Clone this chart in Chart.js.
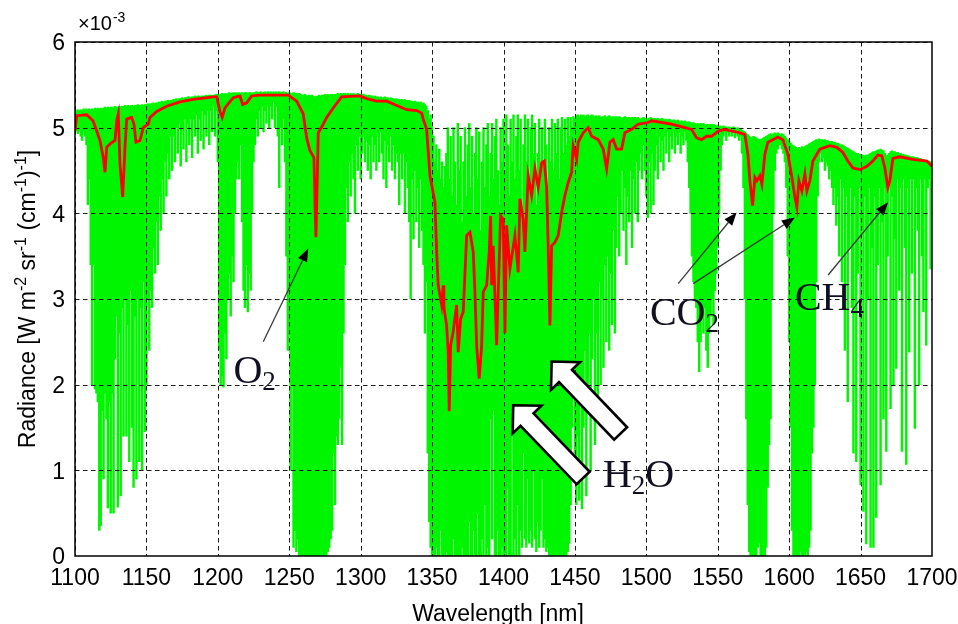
<!DOCTYPE html>
<html>
<head>
<meta charset="utf-8">
<script src="https://cdn.jsdelivr.net/npm/chart.js@4.4.1/dist/chart.umd.min.js"></script>
<style>
  html, body { margin: 0; padding: 0; background: #fff; }
  canvas { display: block; }
</style>
</head>
<body>
<canvas id="c" width="958" height="624"></canvas>
<script>
// High-resolution spectrum: one bin per nm from 1100 to 1700 nm.
// Each bin spans the min..max radiance (x1e-3) reached inside it.
const binStartNm = 1100;
const greenLow = [
  5.0, 4.97, 4.93, 4.96, 4.9, 4.85, 4.95, 4.9, 4.8, 4.1,
  4.4, 3.4, 2.0, 3.4, 1.95, 1.9, 1.8, 0.3, 0.35, 1.7,
  0.9, 1.9, 1.6, 0.56, 1.8, 0.5, 1.9, 0.5, 2.3, 2.8,
  0.57, 2.6, 0.7, 2.9, 1.4, 3.0, 1.4, 2.7, 1.1, 3.1,
  1.5, 0.8, 2.8, 0.9, 3.0, 1.1, 2.9, 1.0, 3.2, 1.45,
  2.0, 3.0, 2.4, 3.1, 2.9, 3.6, 3.3, 3.9, 3.4, 4.2,
  3.8, 4.4, 4.0, 4.6, 4.2, 4.7, 4.4, 4.9, 4.5, 4.9,
  4.6, 5.0, 4.7, 5.05, 4.55, 5.0, 4.75, 5.1, 4.6, 5.05,
  4.8, 5.1, 4.65, 5.1, 4.9, 5.15, 4.7, 5.1, 4.85, 5.2,
  4.75, 5.15, 4.9, 5.2, 4.8, 5.2, 4.95, 5.25, 4.9, 5.2,
  4.6, 2.4, 2.0, 2.1, 1.97, 2.6, 2.3, 3.0, 3.3, 2.8,
  3.5, 3.2, 4.0, 4.4, 4.6, 4.4, 4.8, 3.9, 3.1, 2.9,
  3.4, 2.85, 3.3, 3.1, 4.0, 4.6, 4.8, 5.1, 4.9, 5.2,
  5.0, 5.25, 4.95, 5.2, 5.05, 5.25, 5.0, 5.25, 5.1, 5.3,
  5.0, 5.25, 4.9, 4.3, 5.0, 4.8, 5.1, 4.6, 3.5, 2.4,
  2.6, 1.0, 2.0, 0.1, 0.3, 0.05, 0.2, 0, 0, 0,
  0, 0, 0, 0, 0, 0, 0, 0, 0, 0,
  0, 0, 0, 0, 0, 0, 0, 0.05, 0.1, 0.2,
  0.3, 1.2, 0.6, 1.4, 1.3, 1.6, 2.2, 1.3, 2.6, 3.4,
  4.3, 3.9, 4.6, 4.2, 4.7, 4.4, 4.0, 4.8, 4.5, 4.9,
  4.4, 4.7, 4.9, 4.6, 4.85, 4.5, 4.8, 4.4, 4.9, 4.6,
  4.8, 4.5, 4.9, 4.6, 4.95, 4.7, 4.4, 4.85, 4.3, 4.8,
  4.6, 4.9, 4.5, 4.8, 4.4, 4.7, 4.6, 4.1, 4.7, 4.4,
  4.7, 4.0, 4.6, 4.3, 3.9, 3.0, 4.4, 3.7, 4.5, 3.9,
  4.3, 3.6, 4.4, 3.8, 3.4, 2.6, 3.2, 1.2, 0.4, 0.1,
  0, 0, 0, 0.1, 0, 0, 0.3, 0, 0, 0,
  0.05, 0, 0, 0, 0, 0.2, 0, 0, 0, 0,
  0, 0.1, 0, 0, 0, 0, 0.4, 0, 0, 0.3,
  0, 0, 0.5, 0, 0, 0.2, 0, 0.6, 0, 0.1,
  0, 1.6, 0.2, 1.7, 0, 0, 0.3, 0, 0, 0.1,
  0, 0, 0, 0.8, 0, 0, 1.5, 0, 0.2, 0,
  0.6, 0, 0.3, 0.1, 1.2, 0.2, 0.1, 0.9, 0.15, 0.3,
  0.1, 1.0, 0.2, 0.05, 0.4, 0.1, 0.3, 0.9, 0.1, 0.2,
  0.05, 0.1, 0, 0, 0, 0, 0, 0, 0, 0,
  0, 0, 0, 0, 0, 0.05, 0.15, 0.6, 1.5, 2.0,
  1.2, 0.6, 1.4, 0.65, 2.0, 0.55, 1.5, 2.4, 0.7, 1.8,
  2.6, 1.0, 2.3, 3.0, 1.3, 2.6, 1.6, 3.2, 2.0, 3.0,
  2.2, 3.4, 2.5, 3.5, 2.4, 3.3, 2.7, 3.8, 2.6, 3.6,
  4.2, 3.5, 4.0, 4.5, 3.8, 4.3, 3.4, 4.2, 3.9, 4.5,
  3.6, 4.4, 4.0, 4.6, 3.9, 4.5, 4.7, 4.4, 4.8, 4.5,
  4.2, 3.95, 4.6, 4.0, 4.7, 4.1, 4.5, 4.8, 4.4, 4.9,
  4.6, 4.85, 4.5, 4.9, 4.7, 4.95, 4.6, 4.9, 4.75, 4.95,
  4.7, 4.9, 4.8, 4.95, 4.7, 4.9, 4.8, 4.95, 4.85, 4.6,
  4.3, 4.0, 3.5, 3.2, 3.0, 2.9, 2.5, 2.15, 2.5, 2.8,
  2.6, 2.9, 2.4, 2.2, 2.6, 2.8, 3.0, 2.7, 3.1, 3.3,
  3.6, 4.0, 4.5, 4.8, 4.9, 4.95, 4.85, 4.95, 4.9, 4.97,
  4.9, 4.95, 4.88, 4.95, 4.9, 4.85, 4.9, 4.7, 4.3, 3.0,
  1.6, 0.6, 0.05, 0, 0, 0, 0, 0, 0.1, 0.15,
  0, 0, 0, 0, 0.1, 0.8, 1.3, 1.6, 3.0, 4.0,
  4.5, 4.7, 4.75, 4.8, 4.8, 4.75, 4.7, 4.6, 4.3, 3.5,
  2.5, 1.5, 0.3, 0, 0, 0, 0, 0, 0.05, 0,
  0, 0, 0.05, 0, 0.1, 0.3, 1.2, 1.5, 2.0, 3.2,
  4.2, 4.6, 4.7, 4.6, 4.65, 4.5, 4.6, 4.55, 4.4, 4.5,
  4.3, 4.1, 4.3, 3.86, 4.2, 3.5, 4.4, 3.2, 4.3, 2.4,
  4.2, 1.8, 3.6, 4.3, 2.9, 1.2, 4.2, 1.1, 3.3, 4.3,
  0.83, 3.8, 0.52, 4.2, 0.14, 3.0, 4.3, 0.1, 3.6, 0.1,
  4.2, 0.45, 3.4, 4.3, 0.83, 3.9, 1.6, 4.3, 1.22, 3.5,
  4.4, 1.72, 4.2, 2.0, 3.7, 2.19, 4.4, 3.1, 4.3, 1.22,
  4.4, 3.6, 1.07, 4.3, 2.38, 4.4, 3.3, 4.4, 1.49, 4.3,
  3.8, 2.0, 4.4, 3.5, 2.85, 4.4, 2.46, 4.3, 4.4, 3.35,
  4.5
];
const greenHigh = [
  5.19, 5.2, 5.21, 5.2, 5.21, 5.2, 5.22, 5.21, 5.22, 5.21,
  5.22, 5.21, 5.22, 5.21, 5.23, 5.22, 5.23, 5.22, 5.23, 5.22,
  5.23, 5.24, 5.23, 5.24, 5.23, 5.24, 5.24, 5.23, 5.25, 5.24,
  5.24, 5.25, 5.24, 5.25, 5.25, 5.26, 5.25, 5.26, 5.25, 5.26,
  5.26, 5.25, 5.26, 5.26, 5.27, 5.26, 5.26, 5.27, 5.26, 5.27,
  5.27, 5.28, 5.27, 5.28, 5.28, 5.29, 5.28, 5.29, 5.29, 5.3,
  5.3, 5.31, 5.3, 5.31, 5.31, 5.32, 5.31, 5.32, 5.32, 5.33,
  5.33, 5.34, 5.33, 5.34, 5.34, 5.35, 5.34, 5.35, 5.35, 5.36,
  5.36, 5.35, 5.36, 5.36, 5.37, 5.36, 5.37, 5.37, 5.36, 5.37,
  5.37, 5.37, 5.38, 5.37, 5.38, 5.38, 5.37, 5.38, 5.38, 5.39,
  5.39, 5.38, 5.39, 5.4, 5.39, 5.4, 5.39, 5.4, 5.41, 5.4,
  5.4, 5.41, 5.4, 5.41, 5.4, 5.41, 5.4, 5.41, 5.4, 5.41,
  5.41, 5.4, 5.41, 5.41, 5.4, 5.41, 5.41, 5.42, 5.41, 5.41,
  5.42, 5.41, 5.41, 5.42, 5.41, 5.42, 5.41, 5.42, 5.41, 5.42,
  5.41, 5.42, 5.41, 5.42, 5.41, 5.41, 5.42, 5.41, 5.41, 5.4,
  5.41, 5.4, 5.4, 5.41, 5.4, 5.4, 5.39, 5.4, 5.39, 5.38,
  5.38, 5.39, 5.38, 5.37, 5.38, 5.37, 5.38, 5.37, 5.36, 5.37,
  5.37, 5.38, 5.37, 5.38, 5.38, 5.39, 5.38, 5.39, 5.38, 5.39,
  5.39, 5.38, 5.39, 5.39, 5.4, 5.39, 5.4, 5.39, 5.4, 5.4,
  5.39, 5.4, 5.39, 5.4, 5.39, 5.4, 5.39, 5.39, 5.4, 5.39,
  5.39, 5.38, 5.39, 5.38, 5.38, 5.37, 5.38, 5.37, 5.37, 5.36,
  5.37, 5.36, 5.36, 5.35, 5.36, 5.35, 5.35, 5.36, 5.35, 5.35,
  5.34, 5.35, 5.34, 5.34, 5.33, 5.34, 5.33, 5.33, 5.32, 5.33,
  5.32, 5.33, 5.32, 5.31, 5.32, 5.31, 5.31, 5.3, 5.31, 5.3,
  5.3, 5.29, 5.3, 5.28, 5.29, 5.27, 5.25, 5.2, 5.1, 5.15,
  5.0, 4.9, 4.6, 4.8, 4.5, 4.75, 4.4, 4.6, 4.3, 4.55,
  4.7, 5.0, 4.4, 4.9, 4.2, 5.0, 4.6, 4.1, 5.05, 4.5,
  4.9, 3.9, 4.6, 5.0, 4.2, 4.8, 5.05, 4.3, 4.9, 4.0,
  4.7, 5.0, 4.4, 4.95, 3.8, 4.6, 5.0, 4.3, 4.8, 5.05,
  4.2, 4.7, 5.05, 4.4, 4.9, 5.1, 4.5, 4.1, 5.0, 4.6,
  5.1, 4.5, 5.15, 4.8, 4.2, 5.1, 4.6, 5.15, 4.4, 4.9,
  5.15, 4.5, 5.1, 4.0, 4.8, 5.15, 4.6, 5.1, 4.3, 5.0,
  5.15, 4.7, 5.05, 4.1, 4.7, 5.1, 4.4, 5.0, 4.6, 5.1,
  4.8, 4.3, 5.0, 4.6, 5.1, 4.5, 5.05, 4.7, 5.1, 4.4,
  5.0, 5.12, 4.7, 5.1, 4.8, 5.12, 4.9, 5.12, 5.0, 5.13,
  5.1, 5.14, 5.15, 5.13, 5.15, 5.14, 5.15, 5.13, 5.14, 5.15,
  5.13, 5.14, 5.15, 5.14, 5.13, 5.14, 5.13, 5.14, 5.13, 5.12,
  5.13, 5.14, 5.12, 5.13, 5.14, 5.13, 5.12, 5.13, 5.12, 5.13,
  5.12, 5.13, 5.12, 5.11, 5.12, 5.13, 5.12, 5.11, 5.12, 5.11,
  5.12, 5.11, 5.12, 5.11, 5.12, 5.11, 5.1, 5.11, 5.12, 5.11,
  5.11, 5.1, 5.11, 5.12, 5.11, 5.1, 5.11, 5.1, 5.11, 5.1,
  5.1, 5.11, 5.1, 5.09, 5.1, 5.09, 5.1, 5.09, 5.08, 5.09,
  5.09, 5.08, 5.09, 5.08, 5.07, 5.08, 5.07, 5.08, 5.07, 5.06,
  5.07, 5.06, 5.05, 5.06, 5.05, 5.04, 5.05, 5.04, 5.05, 5.04,
  5.05, 5.04, 5.03, 5.04, 5.03, 5.04, 5.03, 5.04, 5.03, 5.02,
  5.03, 5.02, 5.02, 5.01, 5.02, 5.01, 5.01, 5.0, 5.01, 5.0,
  5.0, 5.01, 5.0, 4.99, 5.0, 4.99, 4.98, 4.97, 4.96, 4.95,
  4.93, 4.92, 4.9, 4.89, 4.88, 4.9, 4.89, 4.88, 4.87, 4.86,
  4.86, 4.87, 4.88, 4.89, 4.9, 4.91, 4.92, 4.93, 4.92, 4.93,
  4.94, 4.93, 4.94, 4.93, 4.92, 4.93, 4.92, 4.9, 4.88, 4.86,
  4.84, 4.82, 4.8, 4.79, 4.78, 4.77, 4.76, 4.77, 4.76, 4.78,
  4.77, 4.78, 4.79, 4.8, 4.81, 4.82, 4.83, 4.84, 4.85, 4.86,
  4.86, 4.87, 4.86, 4.86, 4.85, 4.86, 4.85, 4.85, 4.84, 4.84,
  4.84, 4.83, 4.83, 4.82, 4.82, 4.81, 4.8, 4.8, 4.79, 4.78,
  4.77, 4.76, 4.75, 4.74, 4.73, 4.72, 4.71, 4.7, 4.7, 4.69,
  4.69, 4.68, 4.68, 4.67, 4.68, 4.68, 4.69, 4.7, 4.71, 4.72,
  4.72, 4.73, 4.74, 4.74, 4.75, 4.74, 4.73, 4.7, 4.67, 4.68,
  4.7, 4.72, 4.73, 4.72, 4.72, 4.71, 4.71, 4.7, 4.7, 4.69,
  4.69, 4.68, 4.68, 4.67, 4.67, 4.66, 4.66, 4.66, 4.65, 4.65,
  4.65, 4.64, 4.64, 4.63, 4.63, 4.62, 4.62, 4.61, 4.61, 4.6,
  4.6
];

// Instrument-resolution spectrum (red curve): wavelength [nm] and radiance (x1e-3).
const redNm = [
  1100.0, 1101.2, 1108.2, 1112.6, 1115.2, 1117.5, 1119.8, 1121.0, 1122.2, 1124.5,
  1128.0, 1129.2, 1130.3, 1131.5, 1133.4, 1135.0, 1136.2, 1139.7, 1141.3, 1142.7,
  1145.5, 1147.8, 1151.3, 1152.5, 1157.2, 1164.2, 1173.5, 1182.8, 1196.8, 1199.2,
  1201.5, 1203.1, 1205.0, 1210.8, 1215.5, 1217.4, 1220.2, 1223.7, 1229.5, 1249.3,
  1255.2, 1259.8, 1262.2, 1264.5, 1267.3, 1268.2, 1268.7, 1269.6, 1270.3, 1273.8,
  1276.2, 1280.8, 1286.7, 1299.5, 1304.2, 1311.2, 1318.2, 1332.2, 1339.2, 1342.7,
  1343.8, 1346.2, 1348.5, 1352.0, 1353.2, 1354.3, 1356.7, 1357.8, 1358.3, 1360.2,
  1361.3, 1362.0, 1363.0, 1364.8, 1367.2, 1368.3, 1370.0, 1371.8, 1374.2, 1376.5,
  1378.8, 1380.0, 1381.2, 1383.0, 1384.7, 1385.8, 1388.2, 1390.0, 1391.0, 1391.7,
  1392.8, 1395.2, 1396.3, 1398.0, 1399.8, 1401.0, 1402.2, 1404.5, 1408.0, 1410.3,
  1411.5, 1413.8, 1415.0, 1417.3, 1419.7, 1422.0, 1424.3, 1426.7, 1428.5, 1430.2,
  1431.3, 1432.5, 1433.7, 1436.0, 1438.3, 1440.7, 1443.0, 1445.3, 1447.7, 1448.8,
  1451.2, 1452.3, 1455.8, 1459.3, 1461.7, 1466.3, 1469.8, 1472.2, 1474.5, 1476.8,
  1479.2, 1482.7, 1485.0, 1489.7, 1494.3, 1501.3, 1503.7, 1517.7, 1527.0, 1531.7,
  1535.2, 1538.7, 1542.2, 1545.7, 1550.3, 1555.0, 1565.5, 1569.0, 1571.1, 1572.5,
  1574.4, 1576.0, 1577.4, 1579.5, 1580.9, 1583.0, 1585.1, 1588.6, 1592.1, 1595.6,
  1599.1, 1601.9, 1604.0, 1605.4, 1606.8, 1608.9, 1611.0, 1612.4, 1614.5, 1616.6,
  1621.5, 1628.5, 1633.4, 1637.6, 1641.1, 1644.6, 1649.5, 1654.4, 1658.6, 1662.1,
  1664.9, 1667.0, 1669.1, 1670.5, 1672.6, 1677.5, 1686.6, 1696.4, 1699.9
];
const redVal = [
  4.96, 5.14, 5.15, 5.08, 4.96, 4.85, 4.65, 4.48, 4.77, 4.81,
  4.85, 5.08, 5.16, 4.57, 4.19, 4.77, 5.1, 5.12, 5.04, 4.83,
  4.85, 5.0, 5.04, 5.12, 5.19, 5.25, 5.3, 5.33, 5.36, 5.36,
  5.19, 5.12, 5.23, 5.35, 5.37, 5.27, 5.29, 5.37, 5.38, 5.38,
  5.31, 5.16, 4.88, 4.73, 4.65, 3.99, 3.72, 4.38, 4.94, 5.04,
  5.12, 5.23, 5.36, 5.37, 5.34, 5.31, 5.31, 5.21, 5.2, 5.17,
  5.1, 4.98, 4.44, 4.13, 3.55, 3.16, 2.93, 3.16, 2.9, 2.69,
  2.38, 1.69, 2.46, 2.62, 2.93, 2.38, 2.77, 2.85, 3.74, 3.78,
  3.55, 3.08, 2.46, 2.07, 2.46, 3.08, 3.16, 3.55, 3.97, 3.16,
  3.62, 2.46, 3.08, 3.97, 3.93, 2.6, 3.86, 3.35, 3.74, 3.31,
  4.17, 3.93, 3.55, 4.44, 4.21, 4.52, 4.3, 4.59, 4.61, 4.3,
  3.62, 2.69, 3.62, 3.66, 3.74, 4.01, 4.21, 4.36, 4.48, 4.79,
  4.63, 4.83, 4.94, 5.0, 4.9, 4.86, 4.75, 4.52, 4.83, 4.86,
  4.75, 4.75, 4.94, 4.98, 5.04, 5.06, 5.08, 5.04, 5.0, 4.98,
  4.88, 4.86, 4.9, 4.9, 4.96, 4.98, 4.94, 4.92, 4.69, 4.38,
  4.09, 4.42, 4.38, 4.44, 4.34, 4.69, 4.83, 4.86, 4.89, 4.86,
  4.69, 4.42, 4.19, 4.07, 4.38, 4.26, 4.46, 4.26, 4.38, 4.61,
  4.75, 4.79, 4.77, 4.71, 4.61, 4.53, 4.51, 4.55, 4.61, 4.68,
  4.67, 4.53, 4.3, 4.38, 4.64, 4.66, 4.63, 4.61, 4.55
];

// Axis ticks
const xTicks = { min: 1100, max: 1700, step: 50 };
const yTicks = { min: 0, max: 6, step: 1 };

// Molecule labels: text parts [text, isSubscript], anchored at (nm, radiance) = left / baseline
const moleculeLabels = [
  { parts: [['O', 0], ['2', 1]], at: [1210.9, 2.02] },
  { parts: [['C', 0], ['O', 0], ['2', 1]], at: [1502.5, 2.70] },
  { parts: [['C', 0], ['H', 0], ['4', 1]], at: [1604.0, 2.87] },
  { parts: [['H', 0], ['2', 1], ['O', 0]], at: [1469.6, 0.81] }
];
// Thin pointer arrows: [tailNm, tailVal, headNm, headVal]
const pointerArrows = [
  [1231.8, 2.50, 1263.3, 3.59],
  [1522.3, 3.18, 1563.2, 4.01],
  [1532.8, 3.18, 1604.0, 3.95],
  [1627.3, 3.28, 1669.3, 4.13]
];
// Hollow block arrows pointing into the water band: [tailNm, tailVal, tipNm, tipVal]
const blockArrows = [
  [1482.0, 1.43, 1433.7, 2.27],
  [1455.8, 0.91, 1406.8, 1.76]
];

const SANS = '"Liberation Sans", Arial, Helvetica, sans-serif';
const SERIF = '"Liberation Serif", "Times New Roman", Times, serif';

const greenData = greenLow.map((lo, i) => ({ x: binStartNm + i, y: [lo, greenHigh[i]] }));
const redData = redNm.map((x, i) => ({ x, y: redVal[i] }));

function tickValues(t) {
  const out = [];
  for (let v = t.min; v <= t.max + 1e-9; v += t.step) out.push(v);
  return out;
}

function drawParts(ctx, parts, x, y, mainSize, subSize, subShift, family) {
  let cx = x;
  for (const [txt, sub] of parts) {
    ctx.font = (sub ? subSize : mainSize) + 'px ' + family;
    ctx.fillText(txt, cx, sub ? y + subShift : y);
    cx += ctx.measureText(txt).width;
  }
  return cx - x;
}
function measureParts(ctx, parts, mainSize, subSize, family) {
  let w = 0;
  for (const [txt, sub] of parts) {
    ctx.font = (sub ? subSize : mainSize) + 'px ' + family;
    w += ctx.measureText(txt).width;
  }
  return w;
}

const decor = {
  id: 'decor',
  beforeDraw(chart) {
    const ctx = chart.ctx;
    ctx.save();
    ctx.fillStyle = '#fff';
    ctx.fillRect(0, 0, chart.width, chart.height);
    ctx.restore();
  },
  afterDatasetDraw(chart, args) {
    if (args.index !== 0) return;
    // dashed grid laid over the dense spectrum
    const { ctx, chartArea: a, scales: { x, y } } = chart;
    ctx.save();
    ctx.beginPath();
    ctx.rect(a.left, a.top, a.right - a.left, a.bottom - a.top);
    ctx.clip();
    ctx.setLineDash([4.5, 3.5]);
    ctx.lineWidth = 1;
    ctx.strokeStyle = '#1a1a1a';
    tickValues(xTicks).forEach(v => {
      const px = Math.round(x.getPixelForValue(v)) + 0.5;
      ctx.beginPath(); ctx.moveTo(px, a.top); ctx.lineTo(px, a.bottom); ctx.stroke();
    });
    tickValues(yTicks).forEach(v => {
      const py = Math.round(y.getPixelForValue(v)) + 0.5;
      ctx.beginPath(); ctx.moveTo(a.left, py); ctx.lineTo(a.right, py); ctx.stroke();
    });
    ctx.restore();
  },
  afterDraw(chart) {
    const { ctx, chartArea: a, scales: { x, y } } = chart;
    const P = (nm, v) => [x.getPixelForValue(nm), y.getPixelForValue(v)];
    ctx.save();

    // axes box
    ctx.setLineDash([]);
    ctx.lineWidth = 1.5;
    ctx.strokeStyle = '#000';
    ctx.strokeRect(a.left, a.top, a.right - a.left, a.bottom - a.top);

    // tick labels
    ctx.fillStyle = '#000';
    ctx.font = '23px ' + SANS;
    ctx.textBaseline = 'alphabetic';
    ctx.textAlign = 'center';
    tickValues(xTicks).forEach(v => {
      ctx.fillText(String(v), x.getPixelForValue(v), a.bottom + 29);
    });
    ctx.textAlign = 'right';
    tickValues(yTicks).forEach(v => {
      ctx.fillText(String(v), a.left - 10, y.getPixelForValue(v) + 8.3);
    });

    // pointer arrows
    pointerArrows.forEach(([tn, tv, hn, hv]) => {
      const [x0, y0] = P(tn, tv), [x1, y1] = P(hn, hv);
      const dx = x1 - x0, dy = y1 - y0, len = Math.hypot(dx, dy);
      const ux = dx / len, uy = dy / len;
      const hl = 13, hw = 5;
      const bx = x1 - ux * hl, by = y1 - uy * hl;
      ctx.strokeStyle = '#3a3a3a';
      ctx.lineWidth = 1.3;
      ctx.beginPath(); ctx.moveTo(x0, y0); ctx.lineTo(bx, by); ctx.stroke();
      ctx.fillStyle = '#000';
      ctx.beginPath();
      ctx.moveTo(x1, y1);
      ctx.lineTo(bx - uy * hw, by + ux * hw);
      ctx.lineTo(bx + uy * hw, by - ux * hw);
      ctx.closePath();
      ctx.fill();
    });

    // hollow block arrows
    blockArrows.forEach(([tn, tv, pn, pv]) => {
      const [tx, ty] = P(tn, tv), [px, py] = P(pn, pv);
      const dx = tx - px, dy = ty - py, len = Math.hypot(dx, dy);
      const ux = dx / len, uy = dy / len, nx = -uy, ny = ux;
      const L = 20, W = 20, S = 9;
      const hx = px + ux * L, hy = py + uy * L;
      ctx.beginPath();
      ctx.moveTo(px, py);
      ctx.lineTo(hx + nx * W, hy + ny * W);
      ctx.lineTo(hx + nx * S, hy + ny * S);
      ctx.lineTo(tx + nx * S, ty + ny * S);
      ctx.lineTo(tx - nx * S, ty - ny * S);
      ctx.lineTo(hx - nx * S, hy - ny * S);
      ctx.lineTo(hx - nx * W, hy - ny * W);
      ctx.closePath();
      ctx.fillStyle = '#fff';
      ctx.fill();
      ctx.lineJoin = 'miter';
      ctx.lineWidth = 2.6;
      ctx.strokeStyle = '#000';
      ctx.stroke();
    });

    // molecule labels
    ctx.fillStyle = '#101022';
    ctx.textBaseline = 'alphabetic';
    ctx.textAlign = 'left';
    moleculeLabels.forEach(lab => {
      const [lx, ly] = P(lab.at[0], lab.at[1]);
      drawParts(ctx, lab.parts, lx, ly, 40, 27, 7, SERIF);
    });

    // exponent marker
    ctx.fillStyle = '#000';
    ctx.font = '20px ' + SANS;
    ctx.fillText('\u00d710', 78, 30);
    const w10 = ctx.measureText('\u00d710').width;
    ctx.font = '14px ' + SANS;
    ctx.fillText('-3', 78 + w10 + 1, 22);

    // x axis title
    ctx.font = '23px ' + SANS;
    ctx.textAlign = 'center';
    ctx.fillText('Wavelength [nm]', 498, 621);

    // y axis title (rotated, with superscripts)
    const yParts = [['Radiance [W m', 0], ['-2', 1], [' sr', 0], ['-1', 1], [' (cm', 0], ['-1', 1], [')', 0], ['-1', 1], [']', 0]];
    ctx.textAlign = 'left';
    const tw = measureParts(ctx, yParts, 23, 16, SANS);
    ctx.translate(35, (a.top + a.bottom) / 2);
    ctx.rotate(-Math.PI / 2);
    drawParts(ctx, yParts, -tw / 2, 0, 23, 16, -9, SANS);

    ctx.restore();
  }
};

new Chart(document.getElementById('c'), {
  type: 'bar',
  data: {
    datasets: [
      {
        type: 'bar',
        label: 'line-by-line',
        data: greenData,
        backgroundColor: '#00f600',
        borderWidth: 0,
        barThickness: 1.8,
        grouped: false,
        order: 2
      },
      {
        type: 'line',
        label: 'convolved',
        data: redData,
        borderColor: '#ff0000',
        borderWidth: 2.8,
        pointRadius: 0,
        fill: false,
        tension: 0,
        order: 1
      }
    ]
  },
  options: {
    responsive: false,
    animation: false,
    devicePixelRatio: 1,
    layout: { padding: { left: 0, right: 26, top: 42, bottom: 0 } },
    plugins: { legend: { display: false }, tooltip: { enabled: false } },
    scales: {
      x: {
        type: 'linear',
        min: xTicks.min, max: xTicks.max,
        offset: false,
        grid: { display: false, drawTicks: false },
        border: { display: false },
        ticks: { display: false, stepSize: xTicks.step },
        afterFit(s) { s.height = 68; }
      },
      y: {
        min: yTicks.min, max: yTicks.max,
        grid: { display: false, drawTicks: false },
        border: { display: false },
        ticks: { display: false, stepSize: yTicks.step },
        afterFit(s) { s.width = 75; }
      }
    }
  },
  plugins: [decor]
});
</script>
</body>
</html>
